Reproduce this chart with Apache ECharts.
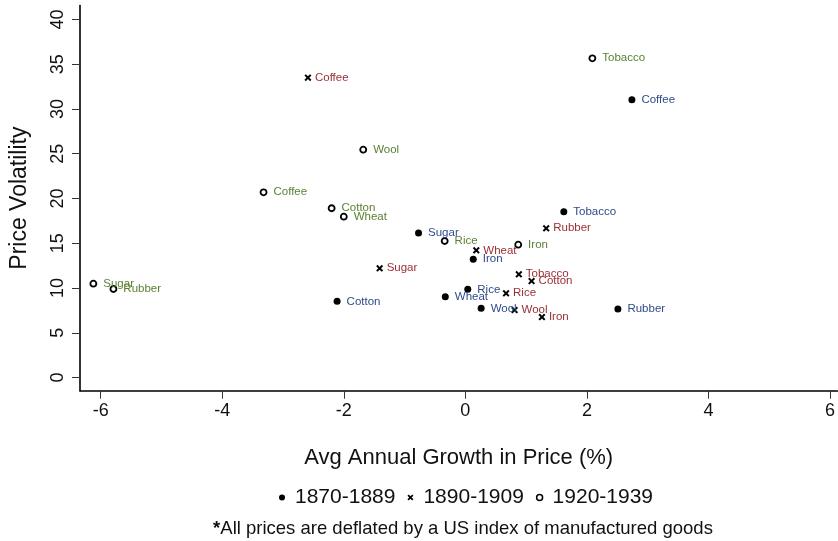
<!DOCTYPE html>
<html lang="en">
<head>
    <meta charset="UTF-8">
    <title>Price Volatility</title>
    <script src="https://cdn.jsdelivr.net/npm/echarts@6/dist/echarts.min.js"></script>
    <style>
        html, body { margin: 0; padding: 0; background: #fff; }
        #main { width: 838px; height: 541px; }
    </style>
</head>
<body>
    <div id="main"></div>
    <script>
        // 1870-1889 (dots)
        var names1870 = ['Coffee', 'Tobacco', 'Sugar', 'Iron', 'Rice', 'Wheat', 'Cotton', 'Wool', 'Rubber'];
        var growth1870 = [2.74, 1.62, -0.77, 0.13, 0.04, -0.33, -2.11, 0.26, 2.51];
        var vol1870 = [31.04, 18.53, 16.15, 13.21, 9.85, 9.03, 8.51, 7.73, 7.65];

        // 1890-1909 (crosses)
        var names1890 = ['Coffee', 'Rubber', 'Wheat', 'Sugar', 'Tobacco', 'Cotton', 'Rice', 'Wool', 'Iron'];
        var growth1890 = [-2.59, 1.33, 0.18, -1.41, 0.88, 1.09, 0.67, 0.81, 1.26];
        var vol1890 = [33.50, 16.67, 14.21, 12.20, 11.53, 10.78, 9.41, 7.54, 6.76];

        // 1920-1939 (hollow circles)
        var names1920 = ['Tobacco', 'Wool', 'Coffee', 'Cotton', 'Wheat', 'Rice', 'Iron', 'Sugar', 'Rubber'];
        var growth1920 = [2.09, -1.68, -3.32, -2.20, -2.00, -0.34, 0.87, -6.12, -5.79];
        var vol1920 = [35.66, 25.45, 20.69, 18.91, 17.97, 15.25, 14.84, 10.48, 9.89];

        var xTicks = [-6, -4, -2, 0, 2, 4, 6];
        var yTicks = [0, 5, 10, 15, 20, 25, 30, 35, 40];

        var FONT = '"Liberation Sans", Arial, Helvetica, sans-serif';
        var crossPath = 'path://M0,2L2,0L5,3L8,0L10,2L7,5L10,8L8,10L5,7L2,10L0,8L3,5Z';

        function points(names, xs, ys) {
            var out = [];
            for (var i = 0; i < names.length; i++) {
                out.push({ name: names[i], value: [xs[i], ys[i]] });
            }
            return out;
        }

        function labelStyle(color, dist) {
            return {
                show: true,
                position: 'right',
                distance: dist,
                formatter: '{b}',
                color: color,
                fontFamily: FONT,
                fontSize: 11.5
            };
        }

        var myChart = echarts.init(document.getElementById('main'));

        var option = {
            animation: false,
            backgroundColor: '#fff',
            textStyle: { fontFamily: FONT },
            grid: { left: 76.7, right: 0, top: 5.5, bottom: 150.3 },
            title: {
                text: '{s|*}All prices are deflated by a US index of manufactured goods',
                left: 458,
                top: 514,
                textAlign: 'center',
                textStyle: {
                    fontFamily: FONT,
                    fontSize: 18.5,
                    fontWeight: 'normal',
                    color: '#111',
                    rich: { s: { fontFamily: FONT, fontSize: 18.5, fontWeight: 'bold', color: '#111' } }
                }
            },
            legend: {
                left: 274,
                top: 482,
                itemWidth: 16,
                itemHeight: 6,
                itemGap: 12,
                textStyle: { fontFamily: FONT, fontSize: 21, color: '#111' },
                data: [
                    { name: '1870-1889', icon: 'circle', itemStyle: { color: '#000', borderWidth: 0 } },
                    { name: '1890-1909', icon: crossPath, itemStyle: { color: '#000', borderWidth: 0 } },
                    { name: '1920-1939', icon: 'circle', itemStyle: { color: '#fff', borderColor: '#000', borderWidth: 1.5 } }
                ]
            },
            xAxis: {
                type: 'value',
                min: -6.34,
                max: 6.12,
                name: 'Avg Annual Growth in Price (%)',
                nameLocation: 'middle',
                nameGap: 56,
                nameTextStyle: { fontFamily: FONT, fontSize: 22, color: '#111' },
                axisLine: { show: true, onZero: false, lineStyle: { color: '#000', width: 1.6 } },
                axisTick: { show: true, length: 8, customValues: xTicks, lineStyle: { color: '#333', width: 1 } },
                axisLabel: { customValues: xTicks, margin: 11, fontFamily: FONT, fontSize: 18, color: '#111' },
                splitLine: { show: false }
            },
            yAxis: {
                type: 'value',
                min: -1.47,
                max: 41.56,
                name: 'Price Volatility',
                nameLocation: 'middle',
                nameGap: 49,
                nameTextStyle: { fontFamily: FONT, fontSize: 23, color: '#111' },
                axisLine: { show: true, onZero: false, lineStyle: { color: '#000', width: 1.6 } },
                axisTick: { show: true, length: 8, customValues: yTicks, lineStyle: { color: '#333', width: 1 } },
                axisLabel: { customValues: yTicks, rotate: 90, margin: 13, fontFamily: FONT, fontSize: 18, color: '#111' },
                splitLine: { show: false }
            },
            series: [
                {
                    name: '1870-1889',
                    type: 'scatter',
                    symbol: 'circle',
                    symbolSize: 7,
                    itemStyle: { color: '#000', opacity: 1 },
                    label: labelStyle('#2f4b8a', 6),
                    data: points(names1870, growth1870, vol1870)
                },
                {
                    name: '1890-1909',
                    type: 'scatter',
                    symbol: crossPath,
                    symbolSize: 7,
                    itemStyle: { color: '#000', opacity: 1 },
                    label: labelStyle('#9a2f36', 3.5),
                    data: points(names1890, growth1890, vol1890)
                },
                {
                    name: '1920-1939',
                    type: 'scatter',
                    symbol: 'circle',
                    symbolSize: 6,
                    itemStyle: { color: '#fff', borderColor: '#000', borderWidth: 1.8, opacity: 1 },
                    label: labelStyle('#5a8133', 6),
                    data: points(names1920, growth1920, vol1920)
                }
            ]
        };

        myChart.setOption(option);
    </script>
</body>
</html>
